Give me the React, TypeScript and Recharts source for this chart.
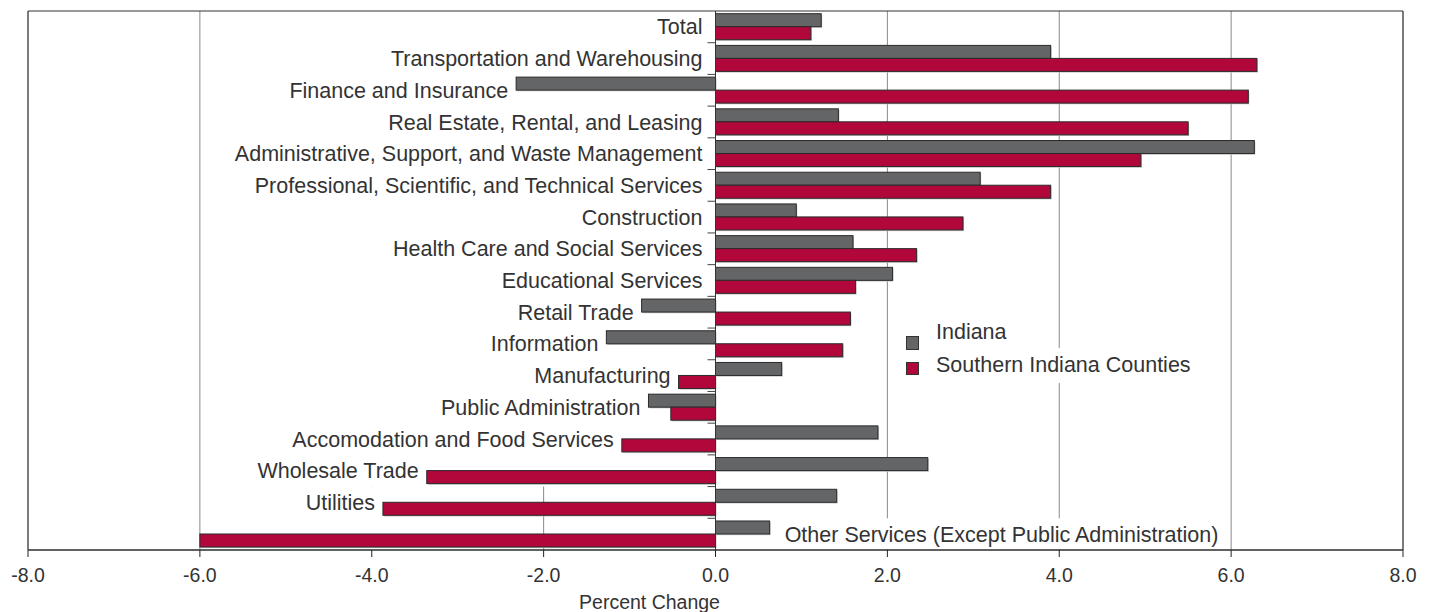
import React from 'react';
import {
  BarChart,
  Bar,
  XAxis,
  YAxis,
  CartesianGrid,
  ReferenceArea,
  ReferenceLine,
  LabelList,
  Legend,
} from 'recharts';

// ---------- data ----------
const categories = [
  'Total',
  'Transportation and Warehousing',
  'Finance and Insurance',
  'Real Estate, Rental, and Leasing',
  'Administrative, Support, and Waste Management',
  'Professional, Scientific, and Technical Services',
  'Construction',
  'Health Care and Social Services',
  'Educational Services',
  'Retail Trade',
  'Information',
  'Manufacturing',
  'Public Administration',
  'Accomodation and Food Services',
  'Wholesale Trade',
  'Utilities',
  'Other Services (Except Public Administration)',
];
const indiana = [1.23, 3.9, -2.32, 1.43, 6.27, 3.08, 0.94, 1.6, 2.06, -0.86, -1.27, 0.77, -0.78, 1.89, 2.47, 1.41, 0.63];
const southern = [1.11, 6.3, 6.2, 5.5, 4.95, 3.9, 2.88, 2.34, 1.63, 1.57, 1.48, -0.43, -0.52, -1.09, -3.36, -3.87, -6.0];
const xTicks = [-8, -6, -4, -2, 0, 2, 4, 6, 8];
const seriesNames = ['Indiana', 'Southern Indiana Counties'];
const seriesColors = ['#646567', '#b1073b'];
const axisTitle = 'Percent Change';

const data = categories.map((name, i) => ({ name, indiana: indiana[i], southern: southern[i] }));

// ---------- layout ----------
const W = 1434;
const H = 612;
const M = { top: 11, right: 31, left: 28, bottom: 0 };
const X_AXIS_H = 62;
const PLOT_TOP = M.top;
const PLOT_BOTTOM = H - M.bottom - X_AXIS_H;
const BAND = (PLOT_BOTTOM - PLOT_TOP) / categories.length;
const FONT = '"Liberation Sans", Arial, Helvetica, sans-serif';
const LABEL_SIZE = 21.5;
const TEXT = '#333333';

let measureCtx: CanvasRenderingContext2D | null = null;
function textWidth(s: string, size: number): number {
  if (!measureCtx) {
    const c = document.createElement('canvas');
    measureCtx = c.getContext('2d');
  }
  if (!measureCtx) return s.length * size * 0.5;
  measureCtx.font = `${size}px ${FONT}`;
  return measureCtx.measureText(s).width;
}

const BarShape = (props: any) => {
  const { x, y, width, height, fill } = props;
  if (x == null || width == null) return null;
  const l = Math.min(x, x + width);
  const w = Math.abs(width);
  return (
    <g>
      <rect x={l + 1} y={y + 1.2} width={w} height={height} fill="#c4c4c4" />
      <rect x={l} y={y} width={w} height={height} fill={fill} stroke="#2b2b2b" strokeWidth={1} />
    </g>
  );
};

function makeLabel(series: 'indiana' | 'southern') {
  return (props: any) => {
    const index: number = props.index;
    const vb = props.viewBox || props;
    if (vb == null || index == null) return null;
    const iv = indiana[index];
    const sv = southern[index];
    const v = series === 'indiana' ? iv : sv;
    const bx = Number(vb.x);
    const bw = Number(vb.width);
    const by = Number(vb.y);
    const bh = Number(vb.height);
    const left = Math.min(bx, bx + bw);
    const right = Math.max(bx, bx + bw);
    const zero = v < 0 ? right : left;
    const centerY = series === 'indiana' ? by + bh : by;
    const bandTop = PLOT_TOP + index * BAND;
    const baseline = centerY + LABEL_SIZE * 0.358;
    const label = categories[index];
    const elems: React.ReactNode[] = [];

    if (series === 'indiana' && index > 0) {
      elems.push(
        <line key="tick" x1={zero - 8} x2={zero} y1={bandTop} y2={bandTop} stroke="#444" strokeWidth={1} />
      );
    }
    const minV = Math.min(iv, sv, 0);
    const textStyle = { fontFamily: FONT, fontSize: LABEL_SIZE, fill: TEXT };
    if (minV < -5) {
      const owner = iv >= sv ? 'indiana' : 'southern';
      if (owner === series) {
        const x = right + 15;
        const w = textWidth(label, LABEL_SIZE);
        elems.push(<rect key="bg" x={x - 3} y={bandTop} width={w + 6} height={BAND - 1} fill="#ffffff" />);
        elems.push(
          <text key="lbl" x={x} y={baseline} textAnchor="start" style={textStyle}>
            {label}
          </text>
        );
      }
    } else {
      const owner = minV < 0 ? (iv <= sv ? 'indiana' : 'southern') : 'indiana';
      if (owner === series) {
        const x = minV < 0 ? left - 8 : zero - 13;
        elems.push(
          <text key="lbl" x={x} y={baseline} textAnchor="end" style={textStyle}>
            {label}
          </text>
        );
      }
    }
    return <g>{elems}</g>;
  };
}

const LegendBox = () => (
  <div style={{ position: 'relative', width: 310, height: 70, fontFamily: FONT, fontSize: LABEL_SIZE, color: TEXT }}>
    <div
      style={{
        position: 'absolute', left: 6, top: 18, width: 13, height: 14, boxSizing: 'border-box',
        background: seriesColors[0], border: '1px solid #333',
      }}
    />
    <div style={{ position: 'absolute', left: 34, top: -3, height: 35, lineHeight: '35px', padding: '0 2px', whiteSpace: 'nowrap' }}>
      {seriesNames[0]}
    </div>
    <div
      style={{
        position: 'absolute', left: 6, top: 44, width: 13, height: 13, boxSizing: 'border-box',
        background: seriesColors[1], border: '1px solid #333',
      }}
    />
    <div
      style={{
        position: 'absolute', left: 34, top: 30, height: 35, lineHeight: '35px', padding: '0 3px 0 2px',
        background: '#ffffff', whiteSpace: 'nowrap',
      }}
    >
      {seriesNames[1]}
    </div>
  </div>
);

export default function App() {
  return (
    <div style={{ width: W, height: H, background: '#fff' }}>
      <style>{'body{margin:0;overflow:hidden;background:#fff}'}</style>
      <BarChart
        width={W}
        height={H}
        data={data}
        layout="vertical"
        margin={M}
        barCategoryGap="8.5%"
        barGap={0}
      >
        <CartesianGrid vertical horizontal={false} stroke="#8a8a8a" strokeWidth={1} />
        <ReferenceArea
          x1={-5.96}
          x2={-0.03}
          y1={categories[0]}
          y2={categories[14]}
          fill="#ffffff"
          fillOpacity={1}
          stroke="none"
          zIndex={-60}
        />
        <ReferenceArea
          x1={-5.96}
          x2={-2.04}
          y1={categories[15]}
          y2={categories[16]}
          fill="#ffffff"
          fillOpacity={1}
          stroke="none"
          zIndex={-60}
        />
        <XAxis
          type="number"
          domain={[-8, 8]}
          ticks={xTicks}
          tickFormatter={(v: number) => v.toFixed(1)}
          height={X_AXIS_H}
          axisLine={{ stroke: '#222' }}
          tickLine={{ stroke: '#222' }}
          tickSize={7}
          tickMargin={11}
          tick={{ fill: TEXT, fontSize: 19.5, fontFamily: FONT }}
          allowDataOverflow
          label={{
            value: axisTitle,
            position: 'insideBottom',
            offset: 3,
            dx: -66,
            style: { fill: TEXT, fontSize: 19.5, fontFamily: FONT },
          }}
        />
        <YAxis type="category" dataKey="name" hide />
        <Bar dataKey="indiana" name={seriesNames[0]} fill={seriesColors[0]} shape={BarShape} isAnimationActive={false}>
          <LabelList dataKey="indiana" content={makeLabel('indiana')} />
        </Bar>
        <Bar dataKey="southern" name={seriesNames[1]} fill={seriesColors[1]} shape={BarShape} isAnimationActive={false}>
          <LabelList dataKey="southern" content={makeLabel('southern')} />
        </Bar>
        <ReferenceLine x={0} stroke="#333" strokeWidth={1} zIndex={650} />
        <ReferenceArea x1={-8} x2={8} fill="none" fillOpacity={0} stroke="#333" strokeWidth={1} zIndex={650} />
        <Legend
          layout="vertical"
          align="center"
          verticalAlign="middle"
          wrapperStyle={{ left: 900, top: 318, width: 310, height: 70 }}
          content={() => <LegendBox />}
        />
      </BarChart>
    </div>
  );
}
